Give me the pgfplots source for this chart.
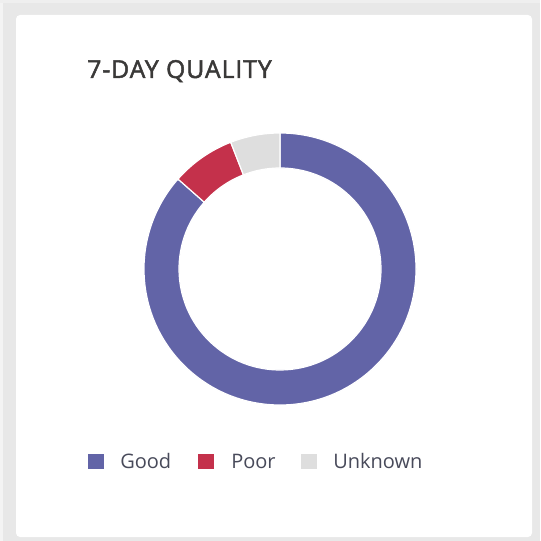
\documentclass[border=0pt]{standalone}
\usepackage{pgfplots}
\pgfplotsset{compat=1.18}
\usepackage{pgfplotstable}
\usepackage{fontspec}
\setmainfont{Open Sans}
\newfontfamily\titlefont{Open Sans}[FakeBold=2,LetterSpace=4]
\definecolor{bggray}{HTML}{E8E8E8}
\definecolor{edgegray}{HTML}{F4F4F4}
\definecolor{cgood}{HTML}{6264A7}
\definecolor{cpoor}{HTML}{C4314B}
\definecolor{cunk}{HTML}{DEDEDE}
\definecolor{titlec}{HTML}{3A3938}
\definecolor{legc}{HTML}{484A5A}
\colorlet{c0}{cgood}
\colorlet{c1}{cpoor}
\colorlet{c2}{cunk}
\pgfplotstableread{
label value
Good 86.5
Poor 7.6
Unknown 5.9
}\qualitydata
\begin{document}
\begin{tikzpicture}[x=0.75pt,y=-0.75pt]
% angles from the data
\def\total{0}%
\pgfplotsforeachungrouped \i in {0,1,2}{%
  \pgfplotstablegetelem{\i}{value}\of\qualitydata
  \pgfmathsetmacro\total{\total+\pgfplotsretval}%
}%
\def\cum{0}%
\pgfplotsforeachungrouped \i in {0,1,2}{%
  \pgfplotstablegetelem{\i}{value}\of\qualitydata
  \pgfmathsetmacro\sang{90-(\cum/\total)*360}%
  \pgfmathsetmacro\cum{\cum+\pgfplotsretval}%
  \pgfmathsetmacro\eang{90-(\cum/\total)*360}%
  \expandafter\xdef\csname sa\i\endcsname{\sang}%
  \expandafter\xdef\csname ea\i\endcsname{\eang}%
}%
% background and card
\fill[bggray] (0,0) rectangle (540,541);
\fill[edgegray] (0,0) rectangle (3,541);
\fill[bggray!70!white] (0,0) rectangle (540,3);
\fill[white, rounded corners=3pt] (16,15) rectangle (532,537);
\coordinate (dc) at (280,269);
% title
\node[anchor=base west, inner sep=0, font=\titlefont\fontsize{18.5}{22}\selectfont, text=titlec] at (87,78) {7-DAY QUALITY};
% donut
\begin{axis}[
  x=0.75pt, y=0.75pt,
  xmin=-140, xmax=140, ymin=-140, ymax=140,
  hide axis, anchor=center, at={(dc)},
]
\pgfplotsinvokeforeach{0,1,2}{
  \fill[c#1, draw=white, line width=0.9pt, line join=miter]
    (axis cs:0,0) ++(\csname sa#1\endcsname:102pt)
    arc[start angle=\csname sa#1\endcsname, end angle=\csname ea#1\endcsname, radius=102pt]
    -- ++(\csname ea#1\endcsname:-26.25pt)
    arc[start angle=\csname ea#1\endcsname, end angle=\csname sa#1\endcsname, radius=75.75pt]
    -- cycle;
}
\end{axis}
% legend
\fill[cgood] (88,454) rectangle (104,469);
\fill[cpoor] (198,454) rectangle (214,469);
\fill[cunk] (301,454) rectangle (317,469);
\begin{scope}[every node/.style={anchor=base west, inner sep=0, font=\fontsize{15}{18}\selectfont, text=legc}]
\node at (120,468) {Good};
\node at (231,468) {Poor};
\node at (333,468) {Unknown};
\end{scope}
\end{tikzpicture}
\end{document}
